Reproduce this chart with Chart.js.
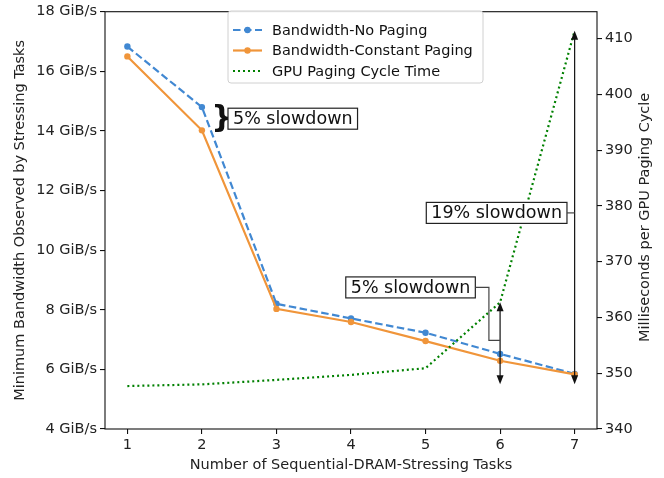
<!DOCTYPE html>
<html>
<head>
<meta charset="utf-8">
<script src="https://cdn.jsdelivr.net/npm/chart.js@4"></script>
<style>
  html, body { margin: 0; padding: 0; background: #fff; }
  #wrap { width: 664px; height: 478px; }
</style>
</head>
<body>
<div id="wrap"><canvas id="canvas"></canvas></div>
<script>
var tasks = [1, 2, 3, 4, 5, 6, 7];
var bwNoPaging = [16.83, 14.80, 8.20, 7.71, 7.23, 6.52, 5.85];
var bwConstPaging = [16.50, 14.02, 8.03, 7.59, 6.95, 6.29, 5.83];
var pagingCycleMs = [347.7, 348.0, 348.8, 349.7, 350.9, 362.7, 411.4];
var leftTicks = [4, 6, 8, 10, 12, 14, 16, 18];
var rightTicks = [340, 350, 360, 370, 380, 390, 400, 410];

var BLUE = '#4188d2';
var ORANGE = '#f0953a';
var GREEN = '#008000';
var FONT = 'DejaVu Sans';

Chart.defaults.font.family = FONT;
Chart.defaults.font.size = 14.5;
Chart.defaults.color = '#222';

function pts(ys) {
  return tasks.map(function (t, i) { return { x: t, y: ys[i] }; });
}

// text box with left edge at data x, vertically centred on data y
function textBox(ctx, text, px, py) {
  ctx.font = '17.5px ' + FONT;
  var w = ctx.measureText(text).width;
  var h = 21;
  ctx.fillStyle = '#fff';
  ctx.fillRect(px, py - h / 2, w + 10, h);
  ctx.strokeStyle = '#222';
  ctx.lineWidth = 1.2;
  ctx.strokeRect(px, py - h / 2, w + 10, h);
  ctx.fillStyle = '#111';
  ctx.textBaseline = 'middle';
  ctx.textAlign = 'left';
  ctx.fillText(text, px + 5, py + 1);
  return px + w + 10;
}

function arrowHead(ctx, x, y, dir) {
  ctx.beginPath();
  ctx.moveTo(x, y);
  ctx.lineTo(x - 3.5, y - dir * 9);
  ctx.lineTo(x + 3.5, y - dir * 9);
  ctx.closePath();
  ctx.fill();
}

function dblArrow(ctx, x, yTop, yBot) {
  ctx.strokeStyle = '#111';
  ctx.fillStyle = '#111';
  ctx.lineWidth = 1.2;
  ctx.beginPath();
  ctx.moveTo(x, yTop + 4);
  ctx.lineTo(x, yBot - 4);
  ctx.stroke();
  arrowHead(ctx, x, yTop, -1);
  arrowHead(ctx, x, yBot, 1);
}

var extras = {
  id: 'extras',
  afterDatasetsDraw: function (chart) {
    var ctx = chart.ctx;
    var xs = chart.scales.x, yl = chart.scales.y, yr = chart.scales.y2;
    var a = chart.chartArea;
    ctx.save();

    // frame
    ctx.strokeStyle = '#111';
    ctx.lineWidth = 1.1;
    ctx.strokeRect(a.left, a.top, a.right - a.left, a.bottom - a.top);

    // right axis title, reading bottom to top
    ctx.save();
    ctx.translate(645, (a.top + a.bottom) / 2 - 3);
    ctx.rotate(-Math.PI / 2);
    ctx.font = '14.5px ' + FONT;
    ctx.fillStyle = '#222';
    ctx.textAlign = 'center';
    ctx.textBaseline = 'middle';
    ctx.fillText('Milliseconds per GPU Paging Cycle', 0, 0);
    ctx.restore();

    // arrows at 6 and 7
    dblArrow(ctx, xs.getPixelForValue(6), yr.getPixelForValue(pagingCycleMs[5]), yl.getPixelForValue(5.5));
    dblArrow(ctx, xs.getPixelForValue(7), yr.getPixelForValue(pagingCycleMs[6]), yl.getPixelForValue(5.5));

    // brace + label at 2
    var bx = xs.getPixelForValue(2.27);
    var by = yl.getPixelForValue((bwNoPaging[1] + bwConstPaging[1]) / 2);
    ctx.fillStyle = '#111';
    ctx.font = 'bold 30px ' + FONT;
    ctx.textAlign = 'center';
    ctx.textBaseline = 'middle';
    ctx.fillText('}', bx, by);
    textBox(ctx, '5% slowdown', xs.getPixelForValue(2.35), by);

    // lower 5% label with elbow connector
    var ly = yl.getPixelForValue(8.75);
    var r1 = textBox(ctx, '5% slowdown', xs.getPixelForValue(3.93), ly);
    var ex = xs.getPixelForValue(5.85);
    var ey = yl.getPixelForValue(6.97);
    ctx.strokeStyle = '#444';
    ctx.lineWidth = 1.2;
    ctx.beginPath();
    ctx.moveTo(r1, ly);
    ctx.lineTo(ex, ly);
    ctx.lineTo(ex, ey);
    ctx.lineTo(xs.getPixelForValue(6), ey);
    ctx.stroke();

    // 19% label
    var hy = yl.getPixelForValue(11.25);
    var r2 = textBox(ctx, '19% slowdown', xs.getPixelForValue(5.01), hy);
    ctx.strokeStyle = '#444';
    ctx.beginPath();
    ctx.moveTo(r2, hy);
    ctx.lineTo(xs.getPixelForValue(7), hy);
    ctx.stroke();

    // legend
    var lx = 228, ly0 = 11, lw = 255, lh = 72;
    ctx.fillStyle = 'rgba(255,255,255,0.9)';
    ctx.strokeStyle = '#d0d0d0';
    ctx.lineWidth = 1;
    ctx.beginPath();
    ctx.roundRect(lx, ly0, lw, lh, 3);
    ctx.fill();
    ctx.stroke();
    ctx.font = '14.5px ' + FONT;
    ctx.textAlign = 'left';
    ctx.textBaseline = 'middle';
    chart.data.datasets.forEach(function (ds, i) {
      var ry = 30 + i * 20.5;
      ctx.strokeStyle = ds.borderColor;
      ctx.lineWidth = ds.borderWidth;
      ctx.setLineDash(ds.borderDash || []);
      ctx.beginPath();
      ctx.moveTo(233, ry);
      ctx.lineTo(262, ry);
      ctx.stroke();
      ctx.setLineDash([]);
      if (ds.pointRadius > 0) {
        ctx.fillStyle = ds.borderColor;
        ctx.beginPath();
        ctx.arc(247.5, ry, ds.pointRadius, 0, Math.PI * 2);
        ctx.fill();
      }
      ctx.fillStyle = '#111';
      ctx.fillText(ds.label, 272, ry + 1);
    });

    ctx.restore();
  }
};

function fixTicks(values) {
  return function (scale) {
    scale.ticks = values.map(function (v) { return { value: v }; });
  };
}

var grid = { display: true, drawOnChartArea: false, drawTicks: true, tickLength: 5, color: '#111', lineWidth: 1.1 };

new Chart(document.getElementById('canvas'), {
  type: 'line',
  data: {
    datasets: [{
      label: 'Bandwidth-No Paging',
      data: pts(bwNoPaging),
      yAxisID: 'y',
      borderColor: BLUE,
      backgroundColor: BLUE,
      borderWidth: 2.2,
      borderDash: [7.5, 3.5],
      pointRadius: 3.2,
      pointBorderWidth: 0,
      order: 3
    }, {
      label: 'Bandwidth-Constant Paging',
      data: pts(bwConstPaging),
      yAxisID: 'y',
      borderColor: ORANGE,
      backgroundColor: ORANGE,
      borderWidth: 2.2,
      pointRadius: 3.2,
      pointBorderWidth: 0,
      order: 2
    }, {
      label: 'GPU Paging Cycle Time',
      data: pts(pagingCycleMs),
      yAxisID: 'y2',
      borderColor: GREEN,
      backgroundColor: GREEN,
      borderWidth: 2.2,
      borderDash: [2, 3],
      pointRadius: 0,
      order: 1
    }]
  },
  options: {
    responsive: true,
    maintainAspectRatio: false,
    animation: false,
    layout: { padding: { left: 12, right: 0, top: 10, bottom: 4 } },
    plugins: { legend: { display: false }, tooltip: { enabled: false } },
    scales: {
      x: {
        type: 'linear',
        min: 0.7, max: 7.3,
        afterBuildTicks: fixTicks(tasks),
        afterFit: function (s) { s.height = 45; },
        grid: grid,
        border: { display: false },
        ticks: { padding: 3 },
        title: { display: true, text: 'Number of Sequential-DRAM-Stressing Tasks', padding: { top: 0, bottom: 0 } }
      },
      y: {
        position: 'left',
        min: 4, max: 18,
        afterBuildTicks: fixTicks(leftTicks),
        afterFit: function (s) { s.width = 93; },
        grid: grid,
        border: { display: false },
        ticks: { padding: 3, callback: function (v) { return v + ' GiB/s'; } },
        title: { display: true, text: 'Minimum Bandwidth Observed by Stressing Tasks', padding: { top: 0, bottom: 2 } }
      },
      y2: {
        position: 'right',
        min: 340, max: 414.8,
        afterBuildTicks: fixTicks(rightTicks),
        afterFit: function (s) { s.width = 67; },
        grid: grid,
        border: { display: false },
        ticks: { padding: 3 },
        title: { display: false }
      }
    }
  },
  plugins: [extras]
});
</script>
</body>
</html>
